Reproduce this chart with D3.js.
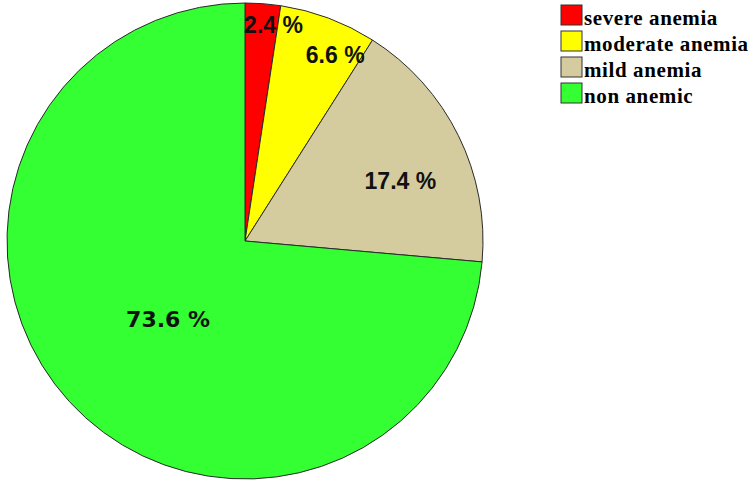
<!DOCTYPE html>
<html>
<head>
<meta charset="utf-8">
<script src="https://cdn.jsdelivr.net/npm/d3@7"></script>
<style>
  body { margin: 0; background: #fff; }
  svg { display: block; }
</style>
</head>
<body>
<svg id="chart" width="750" height="490"></svg>
<script>
/* Chart data */
var categories = ["severe anemia", "moderate anemia", "mild anemia", "non anemic"];
var percents = [2.4, 6.6, 17.4, 73.6];
var colors = ["#ff0000", "#ffff00", "#d4cc9f", "#33ff33"];

// label placement: radius fraction and angle nudge (degrees) per slice
var labelRadius = [0.915, 0.87, 0.70, 0.46];
var labelNudge = [3.2, 5.3, 5.1, -2.9];

var svg = d3.select("#chart"),
    cx = 245, cy = 241, radius = 238;

var pie = d3.pie().sort(null).value(function (d) { return d; });
var arc = d3.arc().innerRadius(0).outerRadius(radius);

var g = svg.append("g").attr("transform", "translate(" + cx + "," + cy + ")");
var arcs = pie(percents);

g.selectAll("path.slice")
    .data(arcs)
    .enter().append("path")
    .attr("class", "slice")
    .attr("d", arc)
    .attr("fill", function (d, i) { return colors[i]; })
    .attr("stroke", "#2a2a2a")
    .attr("stroke-width", 1);

g.selectAll("text.lbl")
    .data(arcs)
    .enter().append("text")
    .attr("class", "lbl")
    .attr("transform", function (d, i) {
        var a = (d.startAngle + d.endAngle) / 2 + labelNudge[i] * Math.PI / 180;
        var r = radius * labelRadius[i];
        return "translate(" + (Math.sin(a) * r) + "," + (-Math.cos(a) * r) + ")";
    })
    .attr("text-anchor", "middle")
    .attr("dy", "0.35em")
    // the big slice label is drawn heavier in the original
    .style("font-family", function (d, i) {
        return i === 3 ? "'DejaVu Sans', sans-serif" : "'Liberation Sans', Arial, sans-serif";
    })
    .style("font-weight", "bold")
    .style("font-size", function (d, i) { return i === 3 ? "22px" : "23px"; })
    .attr("fill", "#111")
    .text(function (d) { return d.data.toFixed(1) + " %"; });

/* Legend */
var legend = svg.append("g").attr("transform", "translate(561,5)");
var rows = legend.selectAll("g.row")
    .data(categories)
    .enter().append("g")
    .attr("class", "row")
    .attr("transform", function (d, i) { return "translate(0," + (i * 26) + ")"; });

rows.append("rect")
    .attr("width", 21).attr("height", 20)
    .attr("fill", function (d, i) { return colors[i]; })
    .attr("stroke", "#333")
    .attr("stroke-width", 1);

rows.append("text")
    .attr("x", 23).attr("y", 20)
    .style("font-family", "'Liberation Serif', 'Times New Roman', serif")
    .style("font-weight", "bold")
    .style("font-size", "21px")
    .style("letter-spacing", "0.6px")
    .attr("fill", "#000")
    .text(function (d) { return d; });
</script>
</body>
</html>
